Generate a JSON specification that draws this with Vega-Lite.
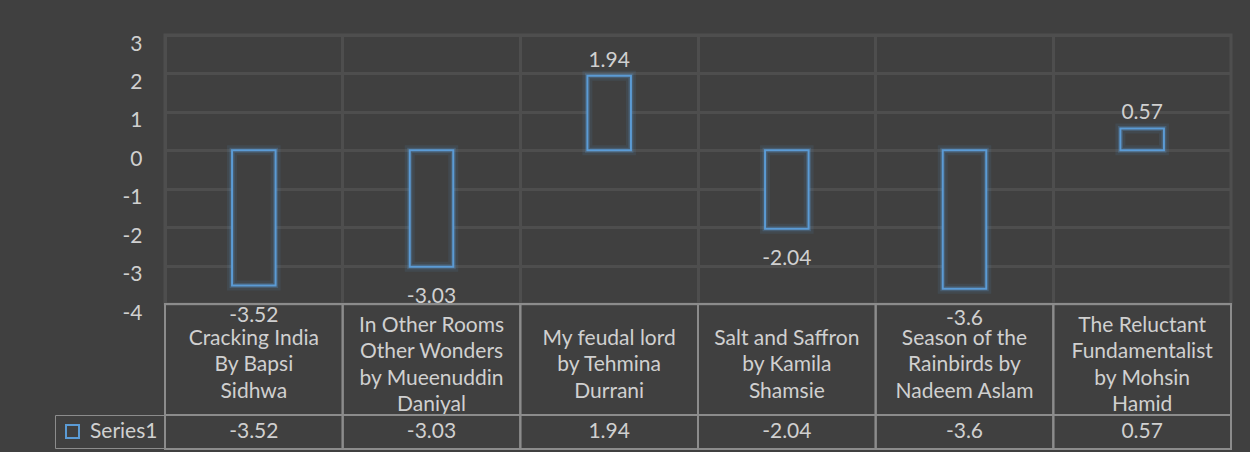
{
  "$schema": "https://vega.github.io/schema/vega-lite/v6.json",
  "background": "#404040",
  "padding": {"left": 54, "top": 31, "right": 20, "bottom": 12},
  "config": {
    "font": "Lato",
    "locale": {"number": {"decimal": ".", "thousands": ",", "grouping": [3], "currency": ["$", ""], "minus": "-"}},
    "view": {"stroke": null},
    "text": {"font": "Lato", "fontSize": 21, "color": "#d0d0d0"},
    "axis": {"labelFont": "Lato", "labelFontSize": 21, "labelColor": "#d0d0d0"}
  },
  "datasets": {
    "books": [
      {"book": "Cracking India\nBy Bapsi\nSidhwa", "value": -3.52},
      {"book": "In Other Rooms\nOther Wonders\nby Mueenuddin\nDaniyal", "value": -3.03},
      {"book": "My feudal lord\nby  Tehmina\nDurrani", "value": 1.94},
      {"book": "Salt and Saffron\nby Kamila\nShamsie", "value": -2.04},
      {"book": "Season of the\nRainbirds by\nNadeem Aslam", "value": -3.6},
      {"book": "The Reluctant\nFundamentalist\nby Mohsin\nHamid", "value": 0.57}
    ]
  },
  "spacing": 0,
  "bounds": "flush",
  "vconcat": [
    {
      "width": 1066,
      "height": 269,
      "view": {"stroke": "#4e4e4e", "strokeWidth": 3},
      "data": {"name": "books"},
      "encoding": {
        "x": {
          "field": "book", "type": "nominal", "sort": null,
          "scale": {"paddingInner": 0, "paddingOuter": 0},
          "axis": {"title": null, "labels": false, "ticks": false, "domain": false, "grid": true, "bandPosition": 0, "gridColor": "#4e4e4e", "gridWidth": 3}
        },
        "y": {
          "field": "value", "type": "quantitative",
          "scale": {"domain": [-4, 3], "nice": false},
          "axis": {"title": null, "values": [-4, -3, -2, -1, 0, 1, 2, 3], "grid": true, "gridColor": "#4e4e4e", "gridWidth": 3, "domain": false, "ticks": false, "labelPadding": 23, "labelOffset": 9}
        }
      },
      "layer": [
        {"mark": {"type": "bar", "width": {"band": 0.245}, "fill": "#404040"}},
        {"mark": {"type": "bar", "width": {"band": 0.245}, "fill": "none", "stroke": "#5b9bd5", "strokeWidth": 10, "strokeOpacity": 0.1}},
        {"mark": {"type": "bar", "width": {"band": 0.245}, "fill": "none", "stroke": "#5b9bd5", "strokeWidth": 5, "strokeOpacity": 0.25}},
        {
          "mark": {"type": "bar", "width": {"band": 0.245}, "fill": "none", "strokeWidth": 2},
          "encoding": {
            "stroke": {
              "datum": "Series1", "type": "nominal",
              "scale": {"range": ["#5b9bd5"]},
              "legend": {
                "title": null, "orient": "none", "legendX": -110, "legendY": 380,
                "symbolType": "square", "symbolSize": 169, "symbolStrokeWidth": 2, "symbolFillColor": "transparent",
                "labelFontSize": 21, "labelColor": "#d0d0d0", "labelFont": "Lato",
                "strokeColor": "#8c8c8c", "padding": 6, "symbolOffset": 1, "labelOffset": 7
              }
            }
          }
        },
        {
          "transform": [{"filter": "datum.value < 0"}],
          "mark": {"type": "text", "baseline": "top", "dy": 19},
          "encoding": {"text": {"field": "value", "type": "nominal"}}
        },
        {
          "transform": [{"filter": "datum.value >= 0"}],
          "mark": {"type": "text", "baseline": "alphabetic", "dy": -9},
          "encoding": {"text": {"field": "value", "type": "nominal"}}
        }
      ]
    },
    {
      "width": 1066,
      "height": 111,
      "data": {"name": "books"},
      "encoding": {
        "x": {"field": "book", "type": "nominal", "sort": null, "scale": {"paddingInner": 0, "paddingOuter": 0}, "axis": null}
      },
      "layer": [
        {"mark": {"type": "rect", "fill": "transparent", "stroke": "#8c8c8c", "strokeWidth": 2}},
        {
          "transform": [{"filter": "length(split(datum.book, '\\n')) == 3"}],
          "mark": {"type": "text", "lineBreak": "\n", "lineHeight": 26.5, "baseline": "middle", "dy": -21},
          "encoding": {"text": {"field": "book", "type": "nominal"}}
        },
        {
          "transform": [{"filter": "length(split(datum.book, '\\n')) == 4"}],
          "mark": {"type": "text", "lineBreak": "\n", "lineHeight": 26.5, "baseline": "middle", "dy": -34},
          "encoding": {"text": {"field": "book", "type": "nominal"}}
        }
      ]
    },
    {
      "width": 1066,
      "height": 34,
      "data": {"name": "books"},
      "encoding": {
        "x": {"field": "book", "type": "nominal", "sort": null, "scale": {"paddingInner": 0, "paddingOuter": 0}, "axis": null}
      },
      "layer": [
        {"mark": {"type": "rect", "fill": "transparent", "stroke": "#8c8c8c", "strokeWidth": 2}},
        {"mark": {"type": "text", "baseline": "middle"}, "encoding": {"text": {"field": "value", "type": "nominal"}}}
      ]
    }
  ]
}
